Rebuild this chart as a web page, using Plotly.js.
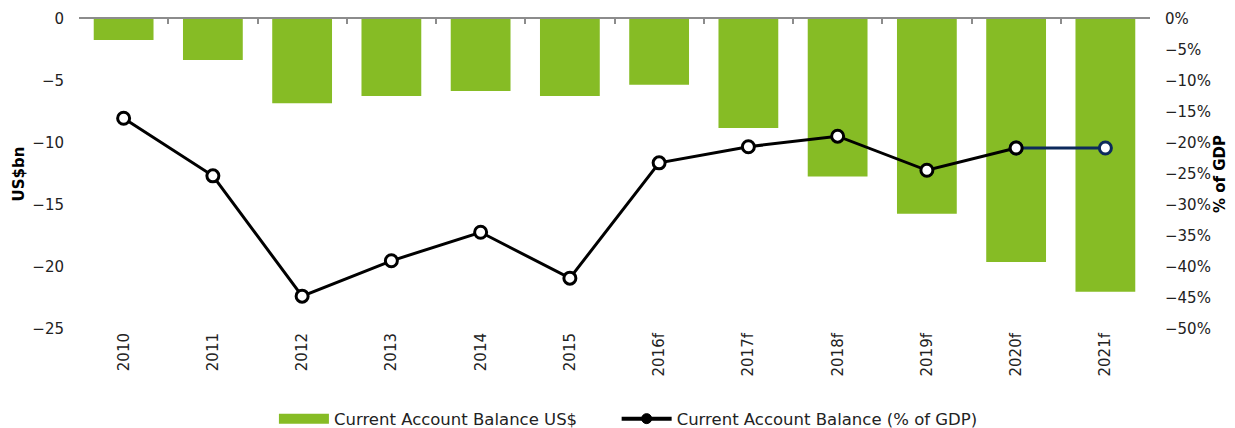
<!DOCTYPE html>
<html>
<head>
<meta charset="utf-8">
<script src="https://cdn.plot.ly/plotly-3.0.1.min.js"></script>
<style>html,body{margin:0;padding:0;background:#fff;}#chart{width:1235px;height:428px;}</style>
</head>
<body>
<div id="chart"></div>
<script>
const categories = ['2010','2011','2012','2013','2014','2015','2016f','2017f','2018f','2019f','2020f','2021f'];
const balanceUSbn = [-1.7, -3.3, -6.8, -6.2, -5.8, -6.2, -5.3, -8.8, -12.7, -15.7, -19.6, -22.0];
const balancePctGDP = [-16.0, -25.3, -44.7, -39.0, -34.4, -41.8, -23.2, -20.6, -18.9, -24.4, -20.8, -20.8];
const forecastCats = ['2020f','2021f'];
const forecastPct = [-20.8, -20.8];
const seriesNames = ['Current Account Balance US$', 'Current Account Balance (% of GDP)'];

const green = '#86BC25';
const navy = '#0D2A5C';
const fontFam = 'DejaVu Sans, Verdana, sans-serif';

const traces = [
  {
    type: 'bar', name: seriesNames[0], showlegend: false,
    x: categories, y: balanceUSbn, xaxis: 'x', yaxis: 'y',
    marker: {color: green, line: {width: 0}}, width: 0.67
  },
  {
    type: 'scatter', mode: 'lines+markers', showlegend: false,
    x: forecastCats, y: forecastPct, xaxis: 'x2', yaxis: 'y2',
    line: {color: navy, width: 3},
    marker: {size: 12, color: '#fff', line: {color: navy, width: 3}}
  },
  {
    type: 'scatter', mode: 'lines+markers', name: seriesNames[1], showlegend: false,
    x: categories.slice(0, 11), y: balancePctGDP.slice(0, 11), xaxis: 'x2', yaxis: 'y2',
    line: {color: '#000', width: 3},
    marker: {size: 12, color: '#fff', line: {color: '#000', width: 3}}
  },
  // legend-only entries styled like the reference legend swatches
  {
    type: 'scatter', mode: 'lines', name: seriesNames[0], x: [null], y: [null], legend: 'legend',
    xaxis: 'x2', yaxis: 'y2', line: {color: green, width: 10}, hoverinfo: 'skip'
  },
  {
    type: 'scatter', mode: 'lines+markers', name: seriesNames[1], x: [null], y: [null], legend: 'legend2',
    xaxis: 'x2', yaxis: 'y2', line: {color: '#000', width: 4},
    marker: {size: 10, color: '#000', line: {color: '#000', width: 1}}, hoverinfo: 'skip'
  }
];

const legendBase = {orientation: 'h', xanchor: 'left', y: -0.29, yanchor: 'middle',
                    font: {size: 16.5, color: '#222'}, itemwidth: 50, bgcolor: 'rgba(0,0,0,0)'};

const layout = {
  width: 1235, height: 428,
  margin: {l: 79, r: 85, t: 19, b: 99, autoexpand: false},
  paper_bgcolor: '#fff', plot_bgcolor: '#fff',
  font: {family: fontFam, size: 15, color: '#222'},
  showlegend: true,
  legend: Object.assign({}, legendBase, {x: 0.182}),
  legend2: Object.assign({}, legendBase, {x: 0.502}),
  bargap: 0.33,
  xaxis: {
    type: 'category', categoryorder: 'array', categoryarray: categories,
    range: [-0.5, 11.5], showline: false, ticks: '', tickangle: -90,
    showgrid: false, zeroline: false, tickfont: {size: 15, color: '#222'}
  },
  xaxis2: {
    type: 'category', categoryorder: 'array', categoryarray: categories,
    overlaying: 'x', side: 'top', range: [-0.5, 11.5],
    showline: true, linecolor: '#8c8c8c', linewidth: 2,
    ticks: 'inside', tickson: 'boundaries', ticklen: 5, tickcolor: '#8c8c8c', tickwidth: 2,
    showticklabels: false, showgrid: false, zeroline: false
  },
  yaxis: {
    range: [-25, 0], dtick: 5, showgrid: false, zeroline: false, showline: false,
    ticks: '', ticklabelstandoff: 14, tickfont: {size: 15, color: '#222'},
    title: {text: '<b>US$bn</b>', font: {size: 15, color: '#000'}, standoff: 4}
  },
  yaxis2: {
    range: [-50, 0], dtick: 5, ticksuffix: '%', overlaying: 'y', side: 'right',
    showgrid: false, zeroline: false, showline: false, ticks: '', ticklabelstandoff: 14,
    tickfont: {size: 15, color: '#222'},
    title: {text: '<b>% of GDP</b>', font: {size: 15, color: '#000'}, standoff: 4}
  }
};

Plotly.newPlot('chart', traces, layout, {displayModeBar: false, staticPlot: true});
</script>
</body>
</html>
